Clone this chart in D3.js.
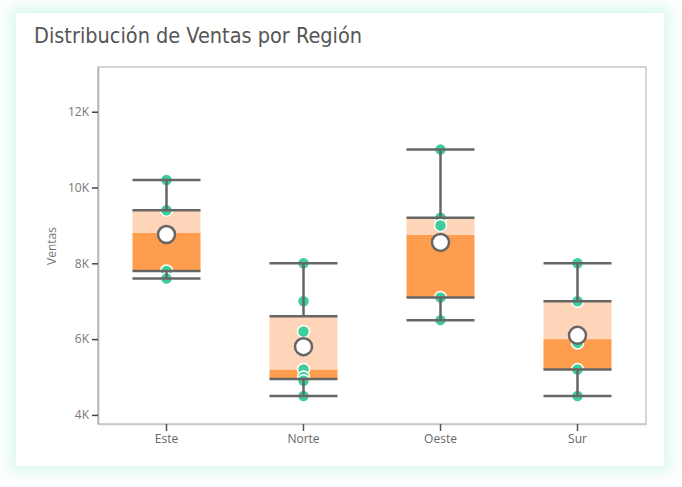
<!DOCTYPE html>
<html>
<head>
<meta charset="utf-8">
<script src="https://cdn.jsdelivr.net/npm/d3@7"></script>
<style>
  html, body { margin: 0; padding: 0; background: #ffffff; }
  body { width: 682px; height: 487px; overflow: hidden; position: relative; }
  #card {
    position: absolute; left: 16px; top: 13px; width: 648px; height: 453px;
    background: #ffffff;
    box-shadow: 0 0 14px 6px rgba(120, 225, 190, 0.28);
  }
  svg { position: absolute; left: 0; top: 0; }
</style>
</head>
<body>
<div id="card"></div>
<script>
var regions = ["Este", "Norte", "Oeste", "Sur"];
var minVals = [7600, 4500, 6500, 4500];
var q1Vals = [7800, 4950, 7100, 5200];
var medianVals = [8800, 5200, 8750, 6000];
var q3Vals = [9400, 6600, 9200, 7000];
var maxVals = [10200, 8000, 11000, 8000];
var meanVals = [8760, 5800, 8550, 6100];
var pointVals = [
  [10200, 9400, 8800, 7800, 7600],
  [8000, 7000, 6200, 5200, 5000, 4900, 4500],
  [11000, 9200, 9000, 7100, 6500],
  [8000, 7000, 5900, 5200, 4500]
];
var yTicks = [4000, 6000, 8000, 10000, 12000];

var width = 682, height = 487;
var plotLeft = 98, plotRight = 646, plotTop = 67, plotBottom = 424;
var boxW = 68;

var svg = d3.select("body")
            .append("svg")
            .attr("width", width)
            .attr("height", height);

svg.append("text")
   .attr("x", 34)
   .attr("y", 43)
   .attr("font-family", "DejaVu Sans Condensed, DejaVu Sans")
   .attr("font-size", 21.5)
   .attr("fill", "#555555")
   .text("Distribución de Ventas por Región");

var x = d3.scaleBand().domain(regions).range([plotLeft, plotRight]).padding(0);
var y = d3.scaleLinear().domain([3760, 13180]).range([plotBottom, plotTop]);

// frame
svg.append("rect")
   .attr("x", plotLeft).attr("y", plotTop)
   .attr("width", plotRight - plotLeft).attr("height", plotBottom - plotTop)
   .attr("fill", "none")
   .attr("stroke", "#c8c8c8")
   .attr("stroke-width", 1.5);

var yAxis = svg.append("g")
   .attr("transform", "translate(" + plotLeft + ",0)")
   .call(d3.axisLeft(y).tickValues(yTicks).tickSize(6).tickSizeOuter(0).tickPadding(3)
           .tickFormat(function(d) { return (d / 1000) + "K"; }));
yAxis.select(".domain").attr("stroke", "#b0b0b0").attr("stroke-width", 1.5);
yAxis.selectAll(".tick line").attr("stroke", "#444444").attr("stroke-width", 1.5);
yAxis.selectAll(".tick text")
     .attr("font-family", "Open Sans, sans-serif")
     .attr("font-size", 12)
     .attr("fill", "#777777");

var xAxis = svg.append("g")
   .attr("transform", "translate(0," + plotBottom + ")")
   .call(d3.axisBottom(x).tickSize(7).tickSizeOuter(0).tickPadding(3));
xAxis.select(".domain").attr("stroke", "#c8c8c8").attr("stroke-width", 1.5);
xAxis.selectAll(".tick line").attr("stroke", "#555555").attr("stroke-width", 1.5);
xAxis.selectAll(".tick text")
     .attr("font-family", "Open Sans, sans-serif")
     .attr("font-size", 12)
     .attr("fill", "#666666");

svg.append("text")
   .attr("transform", "translate(56," + 246 + ") rotate(-90)")
   .attr("text-anchor", "middle")
   .attr("font-family", "Open Sans, sans-serif")
   .attr("font-size", 12)
   .attr("fill", "#777777")
   .text("Ventas");

for (var i = 0; i < regions.length; i++) {
  var cx = x(regions[i]) + x.bandwidth() / 2;
  var x0 = cx - boxW / 2, x1 = cx + boxW / 2;

  // lower box part (Q1 - median)
  svg.append("rect")
     .attr("x", x0).attr("width", boxW)
     .attr("y", y(medianVals[i]))
     .attr("height", y(q1Vals[i]) - y(medianVals[i]))
     .attr("fill", "#fe9d4e");
  // upper box part (median - Q3)
  svg.append("rect")
     .attr("x", x0).attr("width", boxW)
     .attr("y", y(q3Vals[i]))
     .attr("height", y(medianVals[i]) - y(q3Vals[i]))
     .attr("fill", "#fed5b8");

  // points
  for (var p = 0; p < pointVals[i].length; p++) {
    svg.append("circle")
       .attr("cx", cx)
       .attr("cy", y(pointVals[i][p]))
       .attr("r", 6)
       .attr("fill", "#40cd9a")
       .attr("stroke", "#ffffff")
       .attr("stroke-width", 1.5);
  }

  // stems
  svg.append("line")
     .attr("x1", cx).attr("x2", cx)
     .attr("y1", y(maxVals[i])).attr("y2", y(q3Vals[i]))
     .attr("stroke", "#666666").attr("stroke-width", 2.5);
  svg.append("line")
     .attr("x1", cx).attr("x2", cx)
     .attr("y1", y(q1Vals[i])).attr("y2", y(minVals[i]))
     .attr("stroke", "#666666").attr("stroke-width", 2.5);

  // horizontal lines
  var hs = [maxVals[i], q3Vals[i], q1Vals[i], minVals[i]];
  for (var h = 0; h < hs.length; h++) {
    svg.append("line")
       .attr("x1", x0).attr("x2", x1)
       .attr("y1", y(hs[h])).attr("y2", y(hs[h]))
       .attr("stroke", "#666666").attr("stroke-width", 2.5);
  }

  // mean
  svg.append("circle")
     .attr("cx", cx)
     .attr("cy", y(meanVals[i]))
     .attr("r", 8.5)
     .attr("fill", "#ffffff")
     .attr("stroke", "#666666")
     .attr("stroke-width", 2.5);
}
</script>
</body>
</html>
